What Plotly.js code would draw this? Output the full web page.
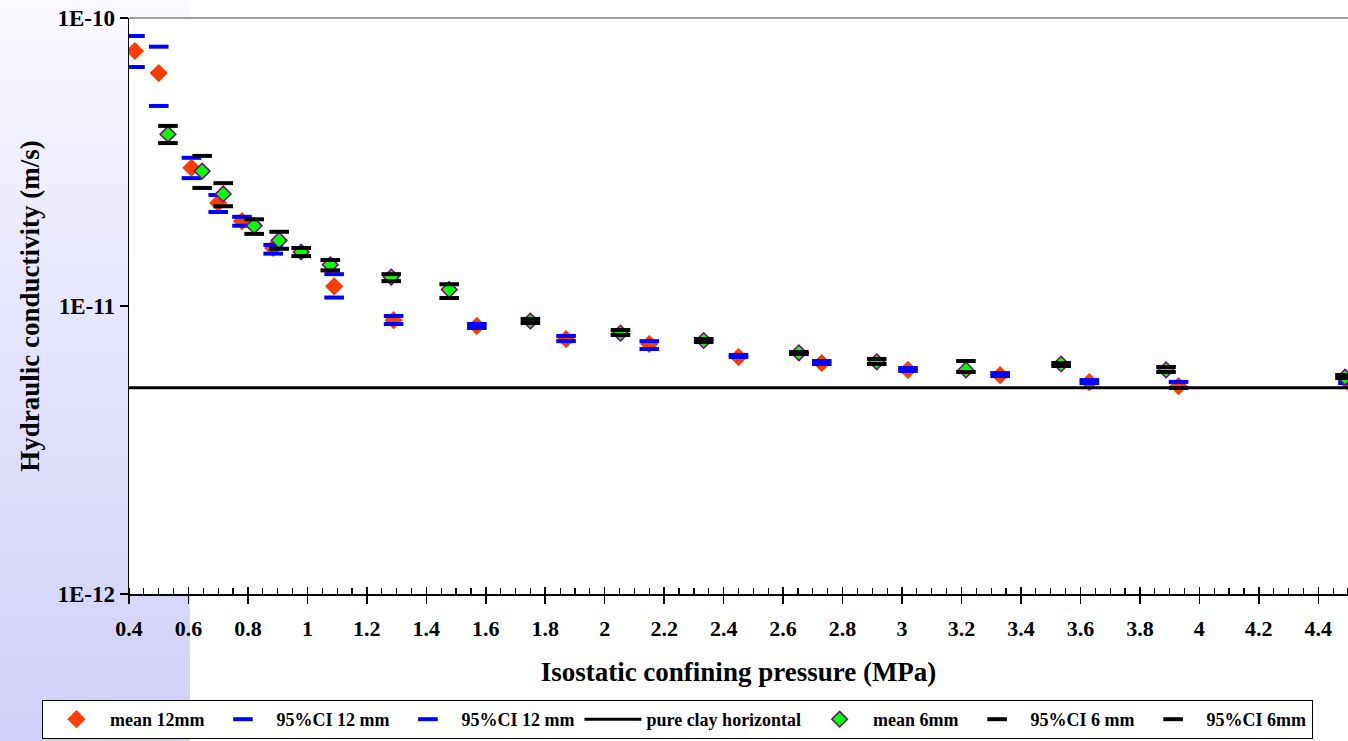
<!DOCTYPE html>
<html>
<head>
<meta charset="utf-8">
<script src="https://cdn.plot.ly/plotly-3.0.1.min.js"></script>
<style>
  html, body { margin: 0; padding: 0; background: #ffffff; width: 1348px; height: 741px; overflow: hidden; }
  #strip { position: absolute; left: 0; top: 0; width: 190px; height: 741px;
           background: linear-gradient(to bottom, #fafaff 0%, #e6e6fc 40%, #d0d0fa 100%); }
  #chart { position: absolute; left: 0; top: 0; width: 1348px; height: 741px; }
</style>
</head>
<body>
<div id="strip"></div>
<div id="chart"></div>
<script>
// ---- data ----
var pressure12 = [0.42, 0.50, 0.61, 0.70, 0.78, 0.885, 1.09, 1.29, 1.57, 1.87, 2.15, 2.45, 2.73, 3.02, 3.33, 3.63, 3.93, 4.50];
var mean12 = [7.68e-11, 6.44e-11, 3.02e-11, 2.28e-11, 1.97e-11, 1.59e-11, 1.17e-11, 8.93e-12, 8.53e-12, 7.67e-12, 7.38e-12, 6.65e-12, 6.34e-12, 6.00e-12, 5.75e-12, 5.44e-12, 5.27e-12, 5.44e-12];
var ci12Upper = [8.66e-11, 7.95e-11, 3.27e-11, 2.43e-11, 2.04e-11, 1.63e-11, 1.29e-11, 9.23e-12, 8.66e-12, 7.87e-12, 7.55e-12, 6.76e-12, 6.44e-12, 6.09e-12, 5.85e-12, 5.53e-12, 5.45e-12, 5.56e-12];
var ci12Lower = [6.76e-11, 4.95e-11, 2.78e-11, 2.12e-11, 1.90e-11, 1.52e-11, 1.07e-11, 8.66e-12, 8.39e-12, 7.55e-12, 7.09e-12, 6.65e-12, 6.29e-12, 5.95e-12, 5.71e-12, 5.40e-12, 5.19e-12, 5.40e-12];

var pressure6 = [0.531, 0.646, 0.717, 0.821, 0.905, 0.979, 1.077, 1.282, 1.477, 1.75, 2.053, 2.333, 2.653, 2.915, 3.215, 3.535, 3.888, 4.49];
var mean6 = [3.95e-11, 2.94e-11, 2.45e-11, 1.90e-11, 1.69e-11, 1.54e-11, 1.39e-11, 1.26e-11, 1.14e-11, 8.87e-12, 8.05e-12, 7.59e-12, 6.88e-12, 6.40e-12, 6.00e-12, 6.29e-12, 6.00e-12, 5.66e-12];
var ci6Upper = [4.22e-11, 3.32e-11, 2.67e-11, 2.00e-11, 1.81e-11, 1.59e-11, 1.445e-11, 1.29e-11, 1.19e-11, 9.02e-12, 8.25e-12, 7.68e-12, 6.92e-12, 6.55e-12, 6.44e-12, 6.34e-12, 6.14e-12, 5.76e-12];
var ci6Lower = [3.68e-11, 2.57e-11, 2.22e-11, 1.78e-11, 1.58e-11, 1.49e-11, 1.33e-11, 1.22e-11, 1.066e-11, 8.73e-12, 7.93e-12, 7.50e-12, 6.81e-12, 6.29e-12, 5.90e-12, 6.19e-12, 5.90e-12, 5.62e-12];

var clayX = [0.4, 4.5];
var clayK = [5.2e-12, 5.2e-12];

var yTickVals = [1e-12, 1e-11, 1e-10];
var yTickText = ["1E-12", "1E-11", "1E-10"];

var seriesNames = ["mean 12mm", "95%CI 12 mm", "95%CI 12 mm", "pure clay horizontal", "mean 6mm", "95%CI 6 mm", "95%CI 6mm"];

// ---- chart ----
var F = "Liberation Serif";
var red = "#ff3c00", blue = "#0000ff", green = "#00ff00", purple = "#800080";

function dash(x, y, name, color) {
  return { x: x, y: y, name: name, type: "scatter", mode: "markers",
    marker: { symbol: "line-ew", size: 14, color: color, line: { color: color, width: 4 } } };
}

var traces = [
  { x: pressure12, y: mean12, name: seriesNames[0], type: "scatter", mode: "markers",
    marker: { symbol: "diamond", size: 14, color: red, line: { width: 0 } } },
  dash(pressure12, ci12Upper, seriesNames[1], blue),
  dash(pressure12, ci12Lower, seriesNames[2], blue),
  { x: clayX, y: clayK, name: seriesNames[3], type: "scatter", mode: "lines",
    line: { color: "#000000", width: 3 } },
  { x: pressure6, y: mean6, name: seriesNames[4], type: "scatter", mode: "markers",
    marker: { symbol: "diamond", size: 12, color: green, line: { color: purple, width: 1.5 } } },
  dash(pressure6, ci6Upper, seriesNames[5], "#000000"),
  dash(pressure6, ci6Lower, seriesNames[6], "#000000"),
  { x: clayX, y: clayK, xaxis: "x2", yaxis: "y", type: "scatter", mode: "lines",
    line: { width: 0 }, hoverinfo: "skip", showlegend: false }
];

var layout = {
  width: 1348, height: 741,
  paper_bgcolor: "rgba(0,0,0,0)",
  plot_bgcolor: "#ffffff",
  margin: { l: 129, r: 0, t: 18, b: 147, pad: 0, autoexpand: false },
  font: { family: F, color: "#000000", size: 18, weight: "bold" },
  showlegend: true,
  legend: {
    orientation: "h",
    x: -0.0714, xanchor: "left", y: -0.184, yanchor: "top",
    bgcolor: "#ffffff", bordercolor: "#000000", borderwidth: 1,
    font: { family: F, size: 18, weight: "bold", color: "#000000" },
    itemwidth: 57, traceorder: "normal"
  },
  xaxis: {
    range: [0.4, 4.5], tick0: 0.4, dtick: 0.2, automargin: false,
    showgrid: false, zeroline: false,
    showline: true, linecolor: "#000000", linewidth: 1.5,
    ticks: "outside", ticklen: 8, tickwidth: 1.5, tickcolor: "#000000",
    ticklabelstandoff: 6,
    minor: { dtick: 0.05, ticks: "inside", ticklen: 6, tickwidth: 1.2, tickcolor: "#000000", showgrid: false },
    tickfont: { family: F, size: 22, weight: "bold" },
    title: { text: "Isostatic confining pressure (MPa)", font: { family: F, size: 27, weight: "bold" }, standoff: 22 }
  },
  xaxis2: {
    overlaying: "x", anchor: "y", range: [0.4, 4.5], tick0: 0.4, dtick: 0.2,
    showgrid: false, zeroline: false, showline: false,
    ticks: "inside", ticklen: 7, tickwidth: 1.5, tickcolor: "#000000",
    showticklabels: false, side: "bottom"
  },
  yaxis: {
    type: "log", range: [-12, -10], automargin: false,
    tickvals: yTickVals, ticktext: yTickText,
    showgrid: false, zeroline: false,
    showline: true, linecolor: "#000000", linewidth: 1.5,
    ticks: "outside", ticklen: 8, tickwidth: 1.5, tickcolor: "#000000",
    tickfont: { family: F, size: 23, weight: "bold" },
    title: { text: "Hydraulic conductivity (m/s)", font: { family: F, size: 27, weight: "bold" }, standoff: 10 }
  },
  shapes: [
    { type: "line", xref: "paper", yref: "paper", x0: 0, x1: 1, y0: 1, y1: 1,
      line: { color: "#808080", width: 1.5 }, layer: "below" }
  ]
};

Plotly.newPlot("chart", traces, layout, { displayModeBar: false, staticPlot: true });
</script>
</body>
</html>
